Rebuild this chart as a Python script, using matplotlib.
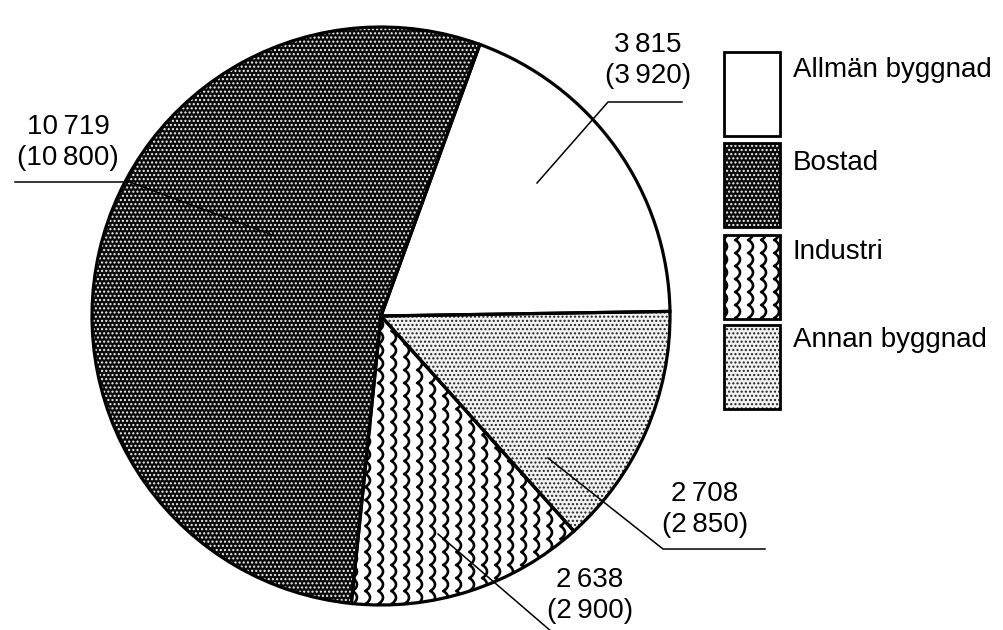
import matplotlib
matplotlib.use('Agg')
import matplotlib.pyplot as plt
import numpy as np
from matplotlib.patches import Rectangle

plt.rcParams['font.family'] = ['Liberation Sans', 'DejaVu Sans']

categories = ['Allmän byggnad', 'Bostad', 'Industri', 'Annan byggnad']
values = [3815, 10719, 2638, 2708]
prev_values = [3920, 10800, 2900, 2850]
pie_order = [0, 3, 2, 1]  # clockwise from the top

styles = {
    'Allmän byggnad': dict(facecolor='white', hatch=None, hcol='white'),
    'Bostad': dict(facecolor='#0a0a0a', hatch='....', hcol='#f0f0f0'),
    'Industri': dict(facecolor='white', hatch=None, hcol='white'),
    'Annan byggnad': dict(facecolor='#f2f2f2', hatch='....', hcol='#222222'),
}

H = 630


def fmt(v):
    return f'{v:,}'.replace(',', '\u2009')


def waves(ax, clip, x0, x1, y0, y1, step=13, period=13, amp=5):
    t = np.linspace(y0, y1, 1200)
    for xc in np.arange(x0, x1, step):
        x = xc + amp * np.abs(np.sin(np.pi * t / period)) ** 0.7
        ln, = ax.plot(x, t, color='black', lw=1.9, zorder=3)
        ln.set_clip_path(clip)


fig = plt.figure(figsize=(10.04, 6.3), dpi=100)
ax = fig.add_axes([0, 0, 1, 1])

cx, cy, r = 381, H - 316, 289
vals = [values[i] for i in pie_order]
wedges, _ = ax.pie(vals, center=(cx, cy), radius=r, startangle=70,
                   counterclock=False, frame=True)
for w, i in zip(wedges, pie_order):
    st = styles[categories[i]]
    w.set_facecolor(st['facecolor'])
    w.set_edgecolor(st['hcol'])
    w.set_linewidth(0)
    if st['hatch']:
        w.set_hatch(st['hatch'])
    w.set_zorder(2)
    if categories[i] == 'Industri':
        waves(ax, w, cx - 120, cx + 200, cy - r - 10, cy + 20)

outline, _ = ax.pie(vals, center=(cx, cy), radius=r, startangle=70,
                    counterclock=False, frame=True,
                    wedgeprops=dict(fill=False, edgecolor='black', linewidth=2.3, zorder=4))
ax.set_xlim(0, 1004)
ax.set_ylim(0, H)
ax.axis('off')

# value labels with leader lines (image pixel positions)
labels = {
    'Allmän byggnad': dict(tx=648, ty=45, line=[(682, 102), (608, 102), (537, 183)]),
    'Bostad': dict(tx=68, ty=127, line=[(15, 182), (130, 182), (275, 236)]),
    'Annan byggnad': dict(tx=705, ty=494, line=[(765, 549), (663, 549), (548, 458)]),
    'Industri': dict(tx=590, ty=580, line=[(552, 632), (438, 534)]),
}
for i, cat in enumerate(categories):
    lb = labels[cat]
    ax.text(lb['tx'], H - lb['ty'], fmt(values[i]), ha='center', va='center',
            fontsize=20, zorder=6)
    ax.text(lb['tx'], H - lb['ty'] - 31, f'({fmt(prev_values[i])})', ha='center',
            va='center', fontsize=20, zorder=6)
    xs = [p[0] for p in lb['line']]
    ys = [H - p[1] for p in lb['line']]
    ax.plot(xs, ys, color='black', lw=1.1, zorder=5, clip_on=False)

# legend boxes
box_tops = [52, 143, 235, 325]
text_y = [70, 163, 252, 340]
for i, cat in enumerate(categories):
    st = styles[cat]
    y0 = H - box_tops[i] - 84
    rect = Rectangle((724, y0), 56, 84, facecolor=st['facecolor'],
                     edgecolor=st['hcol'], lw=0, hatch=st['hatch'], zorder=2)
    ax.add_patch(rect)
    if cat == 'Industri':
        waves(ax, rect, 722, 785, y0 - 5, y0 + 90)
    ax.add_patch(Rectangle((724, y0), 56, 84, fill=False, edgecolor='black',
                           lw=2.0, zorder=4))
    ax.text(793, H - text_y[i], cat, ha='left', va='center', fontsize=20)

fig.savefig('out.png', dpi=100)
